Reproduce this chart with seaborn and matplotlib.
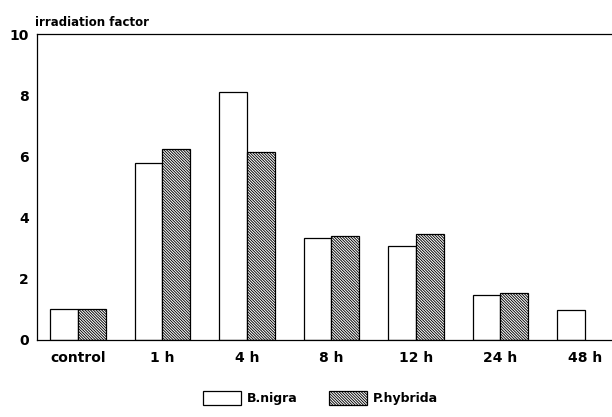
import numpy as np
import pandas as pd
import seaborn as sns
import matplotlib.pyplot as plt
from matplotlib.patches import Patch

times = ["control", "1 h", "4 h", "8 h", "12 h", "24 h", "48 h"]
b_nigra = [1.0, 5.77, 8.12, 3.32, 3.06, 1.47, 0.98]
p_hybrida = [1.0, 6.26, 6.15, 3.40, 3.45, 1.52, np.nan]
species = ["B.nigra", "P.hybrida"]

df = pd.DataFrame({
    "time": times * 2,
    "factor": b_nigra + p_hybrida,
    "species": [species[0]] * len(times) + [species[1]] * len(times),
})

sns.set_style("white")
plt.rcParams["font.family"] = ["DejaVu Sans"]
plt.rcParams["text.color"] = "black"
plt.rcParams["xtick.color"] = "black"
plt.rcParams["ytick.color"] = "black"
plt.rcParams["hatch.linewidth"] = 0.65

hatch = "\\" * 12

fig = plt.figure(figsize=(6.12, 4.17), dpi=100)
ax = fig.add_axes([0.0605, 0.185, 0.9395, 0.733])

sns.barplot(data=df, x="time", y="factor", hue="species", order=times,
            hue_order=species, palette=["white", "white"], width=0.66,
            gap=0, edgecolor="black", linewidth=0.9, legend=False, ax=ax)

# P.hybrida bars get the dense hatching
for bar in ax.containers[1]:
    bar.set_hatch(hatch)

ax.set_xlim(-0.485, 6.32)
ax.set_ylim(0, 10)
ax.set_yticks([0, 2, 4, 6, 8, 10])
ax.set_xlabel("")
ax.set_ylabel("")
ax.tick_params(axis="y", direction="in", length=5, width=0.8, labelsize=10,
               pad=6, colors="black")
ax.tick_params(axis="x", length=0, labelsize=10, pad=8, colors="black")
for lab in ax.get_xticklabels() + ax.get_yticklabels():
    lab.set_fontweight("bold")

for side in ["left", "top", "bottom"]:
    ax.spines[side].set_color("black")
    ax.spines[side].set_linewidth(0.9)
ax.spines["right"].set_visible(False)

ax.text(-0.003, 1.018, "irradiation factor", transform=ax.transAxes,
        fontsize=8.5, fontweight="bold", ha="left", va="bottom", color="black")

handles = [Patch(facecolor="white", edgecolor="black", linewidth=0.9),
           Patch(facecolor="white", edgecolor="black", linewidth=0.9,
                 hatch=hatch)]
leg = fig.legend(handles, species, loc="center", bbox_to_anchor=(0.524, 0.045),
                 ncol=2, frameon=False, handlelength=3.0, handleheight=1.3,
                 columnspacing=2.5, handletextpad=0.5,
                 prop={"weight": "bold", "size": 9})
for t in leg.get_texts():
    t.set_color("black")

fig.savefig("out.png", dpi=100)
